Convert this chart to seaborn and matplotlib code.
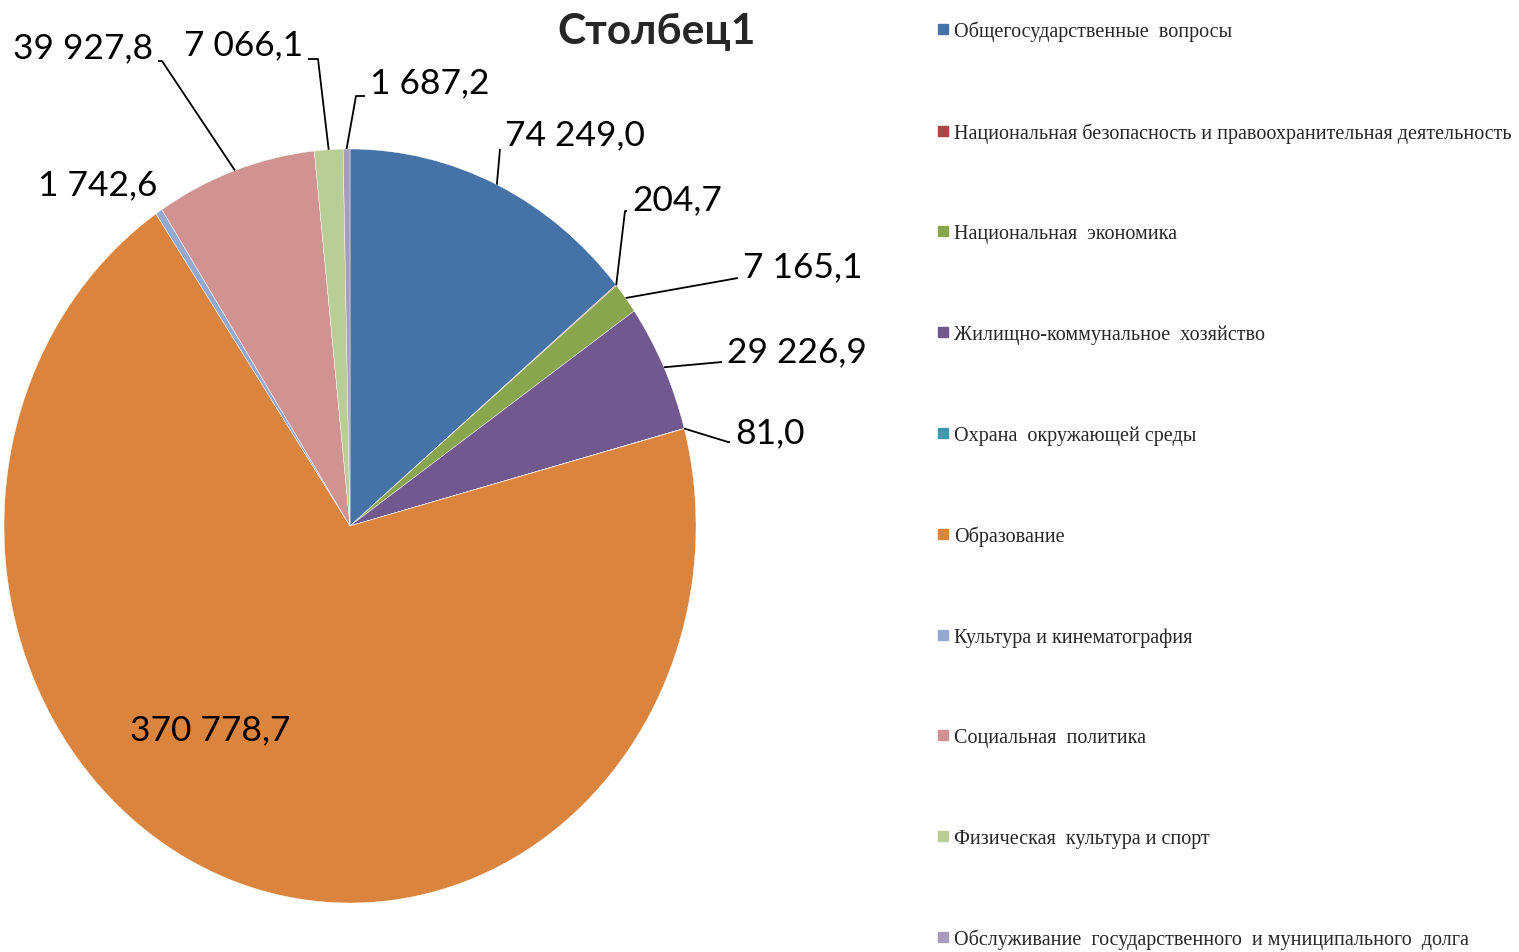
import matplotlib
matplotlib.use("Agg")
import matplotlib.pyplot as plt
from matplotlib.lines import Line2D
import seaborn as sns
import numpy as np

sns.set_style("white")

# Data
categories = [
    "Общегосударственные  вопросы",
    "Национальная безопасность и правоохранительная деятельность",
    "Национальная  экономика",
    "Жилищно-коммунальное  хозяйство",
    "Охрана  окружающей среды",
    "Образование",
    "Культура и кинематография",
    "Социальная  политика",
    "Физическая  культура и спорт",
    "Обслуживание  государственного  и муниципального  долга",
]
values = [74249.0, 204.7, 7165.1, 29226.9, 81.0, 370778.7, 1742.6, 39927.8, 7066.1, 1687.2]
value_labels = ["74 249,0", "204,7", "7 165,1", "29 226,9", "81,0",
                "370 778,7", "1 742,6", "39 927,8", "7 066,1", "1 687,2"]
title = "Столбец1"

colors = ["#4572A7", "#AA4643", "#89A54E", "#71588F", "#4198AF",
          "#DB843D", "#93A9CF", "#D19392", "#B9CD96", "#A99BBD"]

W, H = 1519, 953
fig = plt.figure(figsize=(W / 100, H / 100), dpi=100)

# pie area (ellipse: slightly taller than wide, as in the reference)
cx, cy, rx, ry = 350, 527, 346, 377
ax = fig.add_axes([(cx - rx) / W, (H - cy - ry) / H, 2 * rx / W, 2 * ry / H])
wedges, _ = ax.pie(values, colors=colors, startangle=90, counterclock=False,
                   radius=1, wedgeprops=dict(linewidth=0.3, edgecolor="white"))
ax.set_xlim(-1, 1)
ax.set_ylim(-1, 1)
ax.set_aspect("auto")
ax.axis("off")


def px(x, y):
    # pixel position -> pie data coords
    return (x - cx) / rx, (cy - y) / ry


# label layout: text anchor (px), horizontal alignment, elbow of leader (px) or None
layout = [
    ((505, 135), "left", (500, 150)),
    ((632, 200), "left", (625, 212)),
    ((743, 267), "left", (738, 279)),
    ((727, 352), "left", (722, 363)),
    ((735, 433), "left", (728, 443)),
    ((210, 730), "center", None),
    ((157, 185), "right", None),
    ((153, 48), "right", (162, 62)),
    ((303, 45), "right", (318, 60)),
    ((370, 83), "left", (356, 97)),
]

label_font = dict(family=["Lato", "DejaVu Sans"], fontsize=25.5, color="black")
for w, lab, (tpos, ha, elbow) in zip(wedges, value_labels, layout):
    mid = np.deg2rad((w.theta1 + w.theta2) / 2)
    ex, ey = np.cos(mid), np.sin(mid)
    tx, ty = px(*tpos)
    ax.text(tx, ty, lab, ha=ha, va="center", **label_font)
    if elbow is not None:
        bx, by = px(*elbow)
        if ha == "left":
            endx = tx - 5 / rx
        else:
            endx = tx + 5 / rx
        ax.plot([ex, bx, endx], [ey, by, by], color="black", lw=1.3,
                clip_on=False, solid_capstyle="butt")

fig.text(657 / W, 1 - 32 / H, title, ha="center", va="center",
         family=["Lato", "DejaVu Sans"], fontsize=30.5, fontweight="bold")

handles = [Line2D([0], [0], marker="s", linestyle="none", markersize=7,
                  markerfacecolor=c, markeredgecolor=c) for c in colors]
fig.legend(handles, categories, loc="upper left",
           bbox_to_anchor=(937 / W, 1 - 22 / H), frameon=False,
           prop=dict(family="Liberation Serif", size=14.5),
           labelspacing=4.03, handlelength=0.55, handletextpad=0.3,
           borderaxespad=0, borderpad=0)

fig.savefig("out.png", dpi=100, facecolor="white")
